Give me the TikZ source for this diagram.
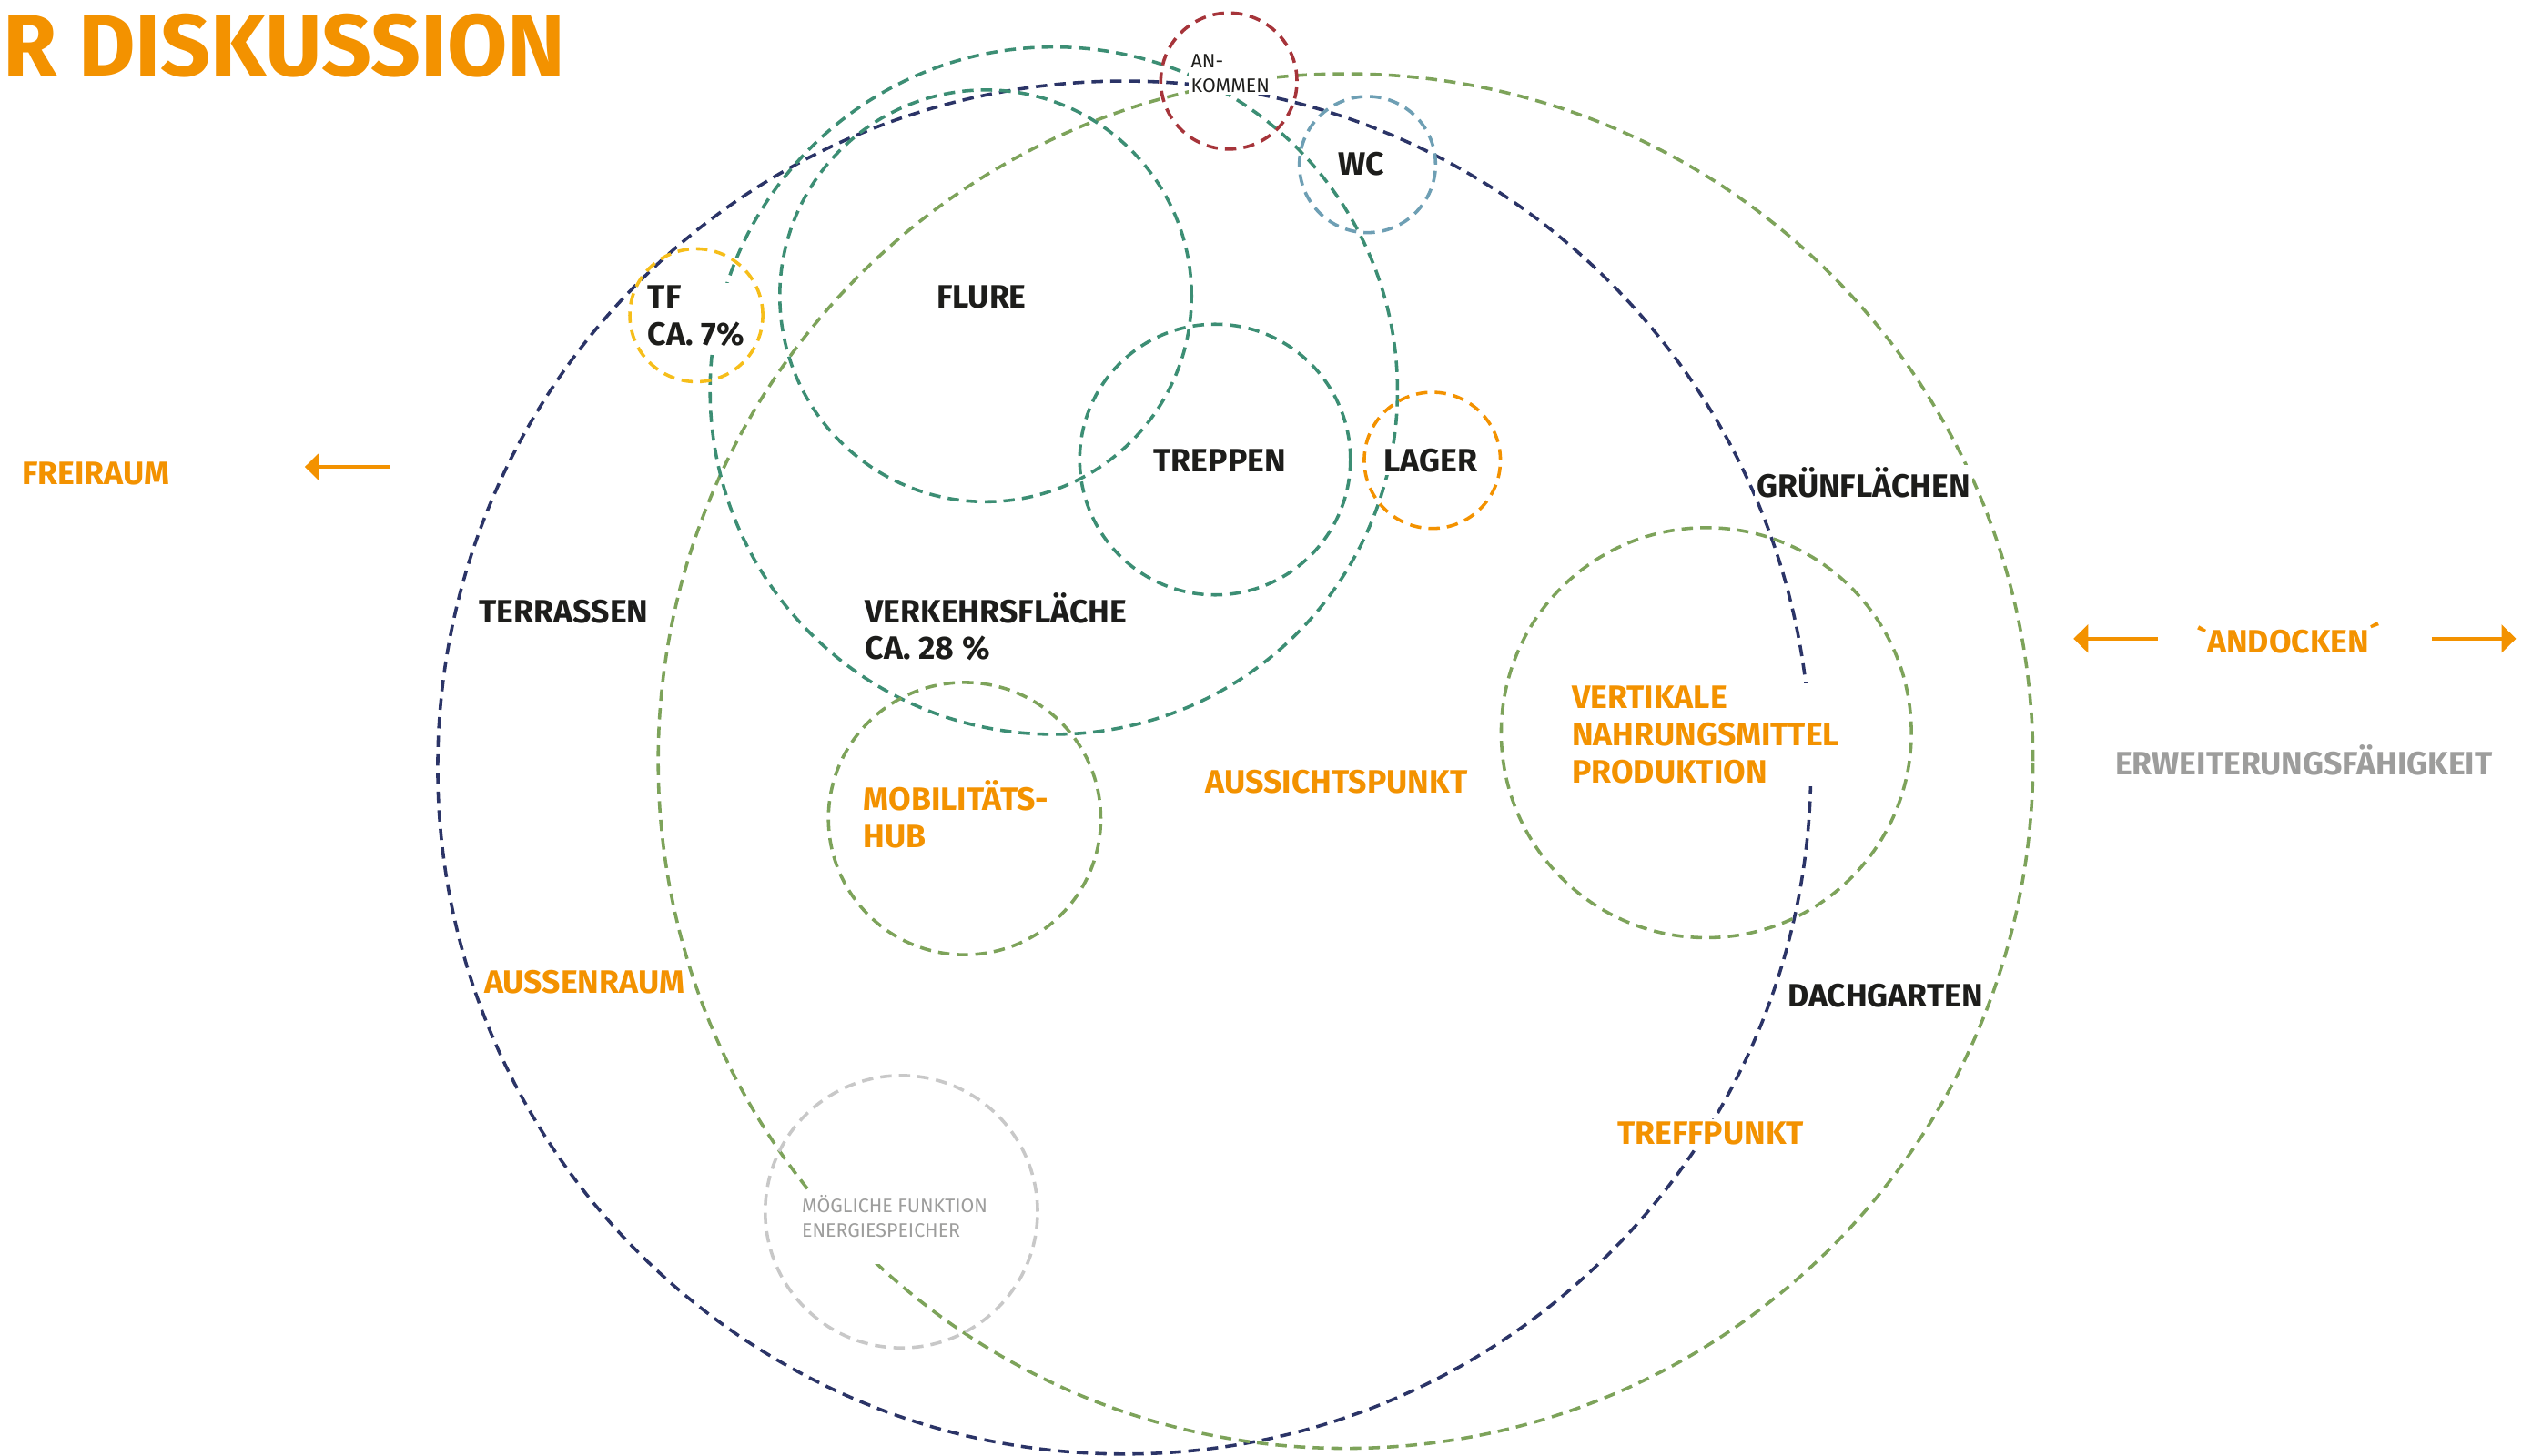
\documentclass[tikz,border=0pt]{standalone}
\usepackage{fontspec}
\setmainfont{Fira Sans}
\usetikzlibrary{arrows.meta}
\definecolor{cNavy}{HTML}{2B3467}
\definecolor{cGreen}{HTML}{7DA35A}
\definecolor{cTeal}{HTML}{3C8E74}
\definecolor{cRed}{HTML}{A6343A}
\definecolor{cBlue}{HTML}{6E9FB4}
\definecolor{cYellow}{HTML}{F6BE1A}
\definecolor{cOrange}{HTML}{F39200}
\definecolor{cGrayLine}{HTML}{C8C8C8}
\definecolor{cGrayText}{HTML}{9D9D9C}
\definecolor{cDark}{HTML}{1D1D1B}
\begin{document}
\begin{tikzpicture}[x=1pt,y=-1pt,
  ring/.style={circle, inner sep=0pt, line width=2pt, dash pattern=on 7pt off 4.5pt},
  lbl/.style={font=\bfseries\fontsize{20}{23}\selectfont, text=cDark, fill=white, inner sep=1.5pt, align=left, anchor=base west},
  olbl/.style={lbl, text=cOrange},
  glbl/.style={lbl, text=cGrayText},
  smalllbl/.style={font=\fontsize{12}{15}\selectfont, fill=white, inner sep=1.5pt, align=left, anchor=base west},
  arr/.style={draw=cOrange, line width=2.6pt, -{Triangle[length=9pt,width=17pt]}}
]
\useasboundingbox (0,0) rectangle (1568,898);
\fill[white] (0,0) rectangle (1568,898);

% title
\begin{scope}
\clip (0,0) rectangle (1568,898);
\node[font=\bfseries\fontsize{54}{60}\selectfont, text=cOrange, anchor=base east, inner sep=0pt] (title) at (349,47) {ZUR DISKUSSION};
\end{scope}

% circles
\node[ring, draw=cNavy, minimum size=847pt] (navyring) at (693.5,473.5) {};
\node[ring, draw=cGreen, minimum size=848pt] (greenring) at (830,469.5) {};
\node[ring, draw=cTeal, minimum size=424pt] (verkehr) at (650,241) {};
\node[ring, draw=cTeal, minimum size=254pt] (flure) at (608,182.5) {};
\node[ring, draw=cTeal, minimum size=167pt] (treppen) at (749.5,283.5) {};
\node[ring, draw=cRed, minimum size=84pt] (ankommen) at (758,50) {};
\node[ring, draw=cBlue, minimum size=84pt] (wc) at (843.5,101.5) {};
\node[ring, draw=cYellow, minimum size=82pt] (tf) at (429.5,194.5) {};
\node[ring, draw=cOrange, minimum size=84pt] (lager) at (883.5,284) {};
\node[ring, draw=cGreen, minimum size=168pt] (mobil) at (595,505) {};
\node[ring, draw=cGreen, minimum size=253pt] (vertikal) at (1052.5,452) {};
\node[ring, draw=cGrayLine, minimum size=168pt] (energie) at (556,747.5) {};

% labels (base anchor = baseline of the last line)
\node[olbl] (freiraum) at (12,299) {FREIRAUM};
\node[lbl] (tflbl) at (398,213) {TF\\CA. 7\%};
\node[lbl] (flurelbl) at (576,190) {FLURE};
\node[lbl] (treppenlbl) at (710,291) {TREPPEN};
\node[lbl] (lagerlbl) at (852,291) {LAGER};
\node[lbl] (wclbl) at (824,108) {WC};
\node[smalllbl, text=cDark] (ankommenlbl) at (733,57) {AN-\\KOMMEN};
\node[lbl] (gruen) at (1082,307) {GRÜNFLÄCHEN};
\node[lbl] (terrassen) at (294,384) {TERRASSEN};
\node[lbl] (verkehrlbl) at (532,407) {VERKEHRSFLÄCHE\\CA. 28 \%};
\node[olbl] (mobillbl) at (531,523) {MOBILITÄTS-\\HUB};
\node[olbl] (aussicht) at (742,489) {AUSSICHTSPUNKT};
\node[olbl] (vertikallbl) at (968,483) {VERTIKALE\\NAHRUNGSMITTEL\\PRODUKTION};
\node[olbl] (aussenraum) at (297,613) {AUSSENRAUM};
\node[lbl] (dachgarten) at (1101,621) {DACHGARTEN};
\node[olbl] (treffpunkt) at (996,706) {TREFFPUNKT};
\node[smalllbl, text=cGrayText] (energielbl) at (493,778) {MÖGLICHE FUNKTION\\ENERGIESPEICHER\\\mbox{}};
\node[olbl] (andocken) at (1353,403) {\textasciigrave ANDOCKEN´};
\node[glbl] (erweiterung) at (1303,478) {ERWEITERUNGSFÄHIGKEIT};

% arrows
\coordinate (frA) at (240,288);
\coordinate (frB) at (188,288);
\coordinate (anLA) at (1331,394);
\coordinate (anLB) at (1279,394);
\coordinate (anRA) at (1500,394);
\coordinate (anRB) at (1552,394);
\draw[arr] (frA) -- (frB);
\draw[arr] (anLA) -- (anLB);
\draw[arr] (anRA) -- (anRB);
\end{tikzpicture}
\end{document}
